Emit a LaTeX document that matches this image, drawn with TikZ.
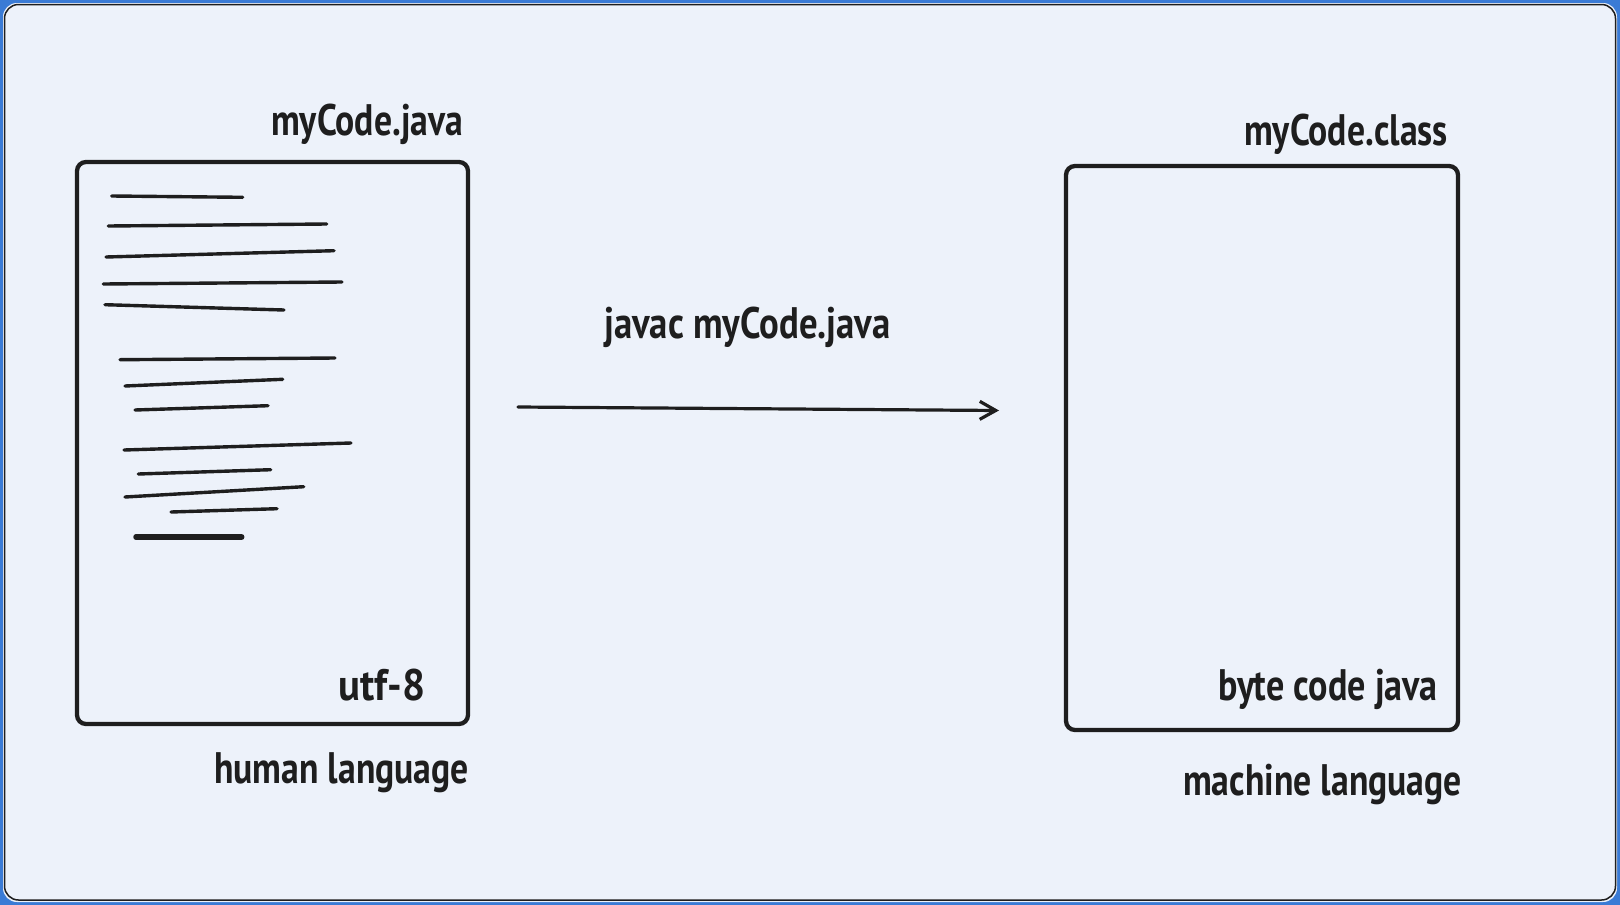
\documentclass[tikz,border=0pt]{standalone}
\usepackage{graphicx}
\usepackage{fontspec}
\setmainfont{PT Sans}
\usetikzlibrary{arrows.meta}
\definecolor{bg}{HTML}{EDF2FA}
\definecolor{frameblue}{HTML}{3A7BD5}
\definecolor{ink}{HTML}{1E1E1E}
\newcommand\narrowtxt[2][0.85]{\scalebox{#1}[1.05]{#2}}
\tikzset{
  doc/.style={draw=ink, line width=4.3pt, rounded corners=9pt},
  txtline/.style={draw=ink, line width=3.4pt, line cap=round},
  lbl/.style={font=\fontsize{42}{48}\selectfont\bfseries, text=ink, inner sep=0pt, anchor=base west},
}
\begin{document}
\begin{tikzpicture}[x=1pt,y=-1pt]
\useasboundingbox (0,0) rectangle (1620,905);
\fill[frameblue] (0,0) rectangle (1620,905);
\fill[bg, rounded corners=14pt] (3,3) rectangle (1617,902);
\draw[ink, line width=1.5pt, rounded corners=14pt] (4.5,4.5) rectangle (1615.5,900);

% documents
\draw[doc] (77,162) rectangle (468,724);
\node[inner sep=0pt] (src) at (272.5,443) {};
\draw[doc] (1066,166) rectangle (1458,730);
\node[inner sep=0pt] (dst) at (1262,448) {};

% code lines
\draw[txtline] (111.7,196) -- (242.7,197.3);
\draw[txtline] (108.3,226) -- (326.7,224);
\draw[txtline] (106,257) -- (334,250.7);
\draw[txtline] (103.3,284) -- (342,282);
\draw[txtline] (105,304.7) -- (284,310);
\draw[txtline] (120,359.7) -- (335,358);
\draw[txtline] (125,386) -- (282.7,379.3);
\draw[txtline] (135,410) -- (268,405.7);
\draw[txtline] (124,450) -- (351,443);
\draw[txtline] (138.3,474) -- (270.7,469.7);
\draw[txtline] (125,497) -- (303.7,486.7);
\draw[txtline] (171,512) -- (277,508.7);
\draw[txtline, line width=5.5pt] (136,537) -- (241.7,537);

% arrow
\coordinate (a1) at (518,407);
\coordinate (a2) at (999,410.5);
\draw[ink, line width=3.2pt, line cap=round, -{Straight Barb[length=16pt,width=18pt,line width=3.2pt]}] (a1) -- (a2);

% labels
\node[lbl] (l1) at (271,135) {\narrowtxt{myCode.java}};
\node[lbl] (l2) at (1244,145) {\narrowtxt{myCode.class}};
\node[lbl] (l3) at (604,338) {\narrowtxt[0.875]{javac myCode.java}};
\node[lbl] (l4) at (338,700) {\narrowtxt[0.97]{utf-8}};
\node[lbl] (l5) at (214,783) {\narrowtxt{human language}};
\node[lbl] (l6) at (1218,700) {\narrowtxt[0.86]{byte code java}};
\node[lbl] (l7) at (1183,795) {\narrowtxt{machine language}};
\end{tikzpicture}
\end{document}
